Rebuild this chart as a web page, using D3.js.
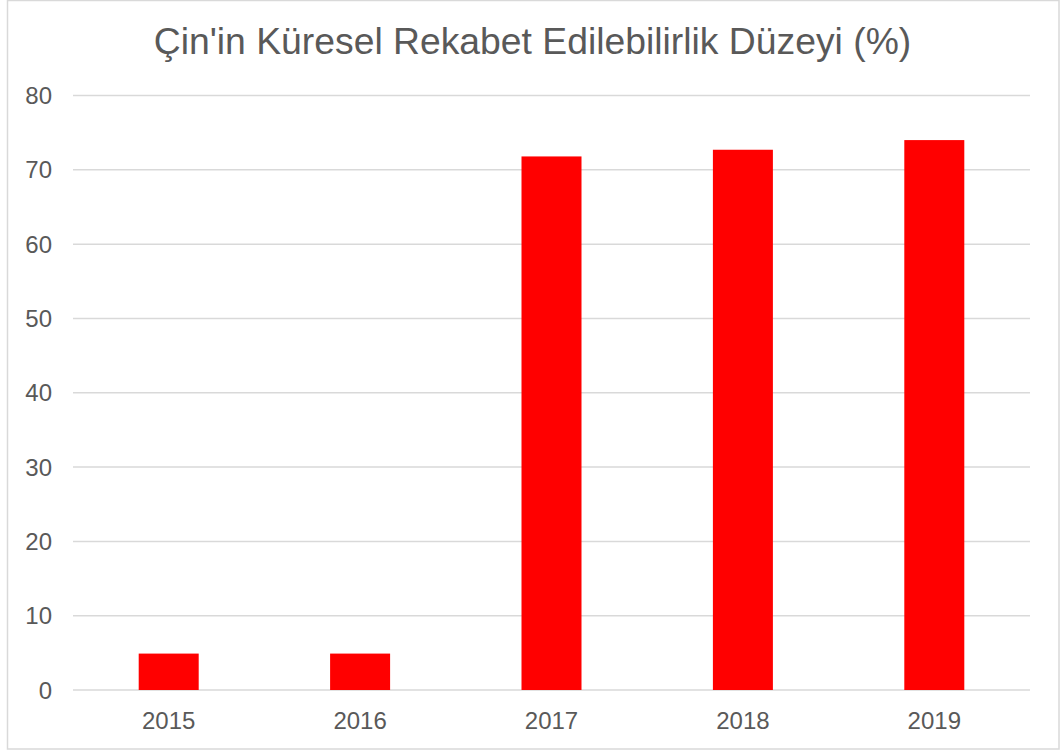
<!DOCTYPE html>
<html><head><meta charset="utf-8">
<script src="https://cdn.jsdelivr.net/npm/d3@7/dist/d3.min.js"></script>
<style>body{margin:0;background:#fff}svg{display:block}</style>
</head><body><svg id="c" width="1062" height="751"></svg>
<script>
const title = "Çin'in Küresel Rekabet Edilebilirlik Düzeyi (%)";
const years = ["2015","2016","2017","2018","2019"];
const values = [4.9, 4.9, 71.8, 72.7, 74.0];
const yTicks = [0,10,20,30,40,50,60,70,80];

const svg = d3.select("#c");
const font = "'Liberation Sans', Arial, sans-serif";
svg.append("rect").attr("x",7.5).attr("y",0.5).attr("width",1051.5).attr("height",748.5)
  .attr("fill","#fff").attr("stroke","#d9d9d9").attr("stroke-width",1.5);

const mLeft = 73, mRight = 1030, mTop = 95.5, mBottom = 690;
const x = d3.scaleBand().domain(years).range([mLeft,mRight]).padding(0);
const y = d3.scaleLinear().domain([0,80]).range([mBottom,mTop]);
const barW = 60;

svg.append("text").attr("x",532.5).attr("y",54)
  .attr("text-anchor","middle").attr("font-family",font).attr("font-size",37.3)
  .attr("fill","#595959").text(title);

const g = svg.append("g");
g.selectAll("line.grid").data(yTicks).join("line").attr("class","grid")
  .attr("x1",mLeft).attr("x2",mRight).attr("y1",d=>y(d)).attr("y2",d=>y(d))
  .attr("stroke","#d9d9d9").attr("stroke-width",1.5);

g.selectAll("text.yl").data(yTicks).join("text").attr("class","yl")
  .attr("x",52).attr("y",d=>y(d)).attr("dy","0.36em").attr("text-anchor","end")
  .attr("font-family",font).attr("font-size",24).attr("fill","#595959").text(d=>d);

g.selectAll("rect.bar").data(values).join("rect").attr("class","bar")
  .attr("x",(d,i)=>x(years[i])+x.bandwidth()/2-barW/2).attr("width",barW)
  .attr("y",d=>y(d)).attr("height",d=>y(0)-y(d)).attr("fill","#ff0000");

g.selectAll("text.xl").data(years).join("text").attr("class","xl")
  .attr("x",d=>x(d)+x.bandwidth()/2).attr("y",728.5).attr("text-anchor","middle")
  .attr("font-family",font).attr("font-size",24).attr("fill","#595959").text(d=>d);
</script></body></html>
